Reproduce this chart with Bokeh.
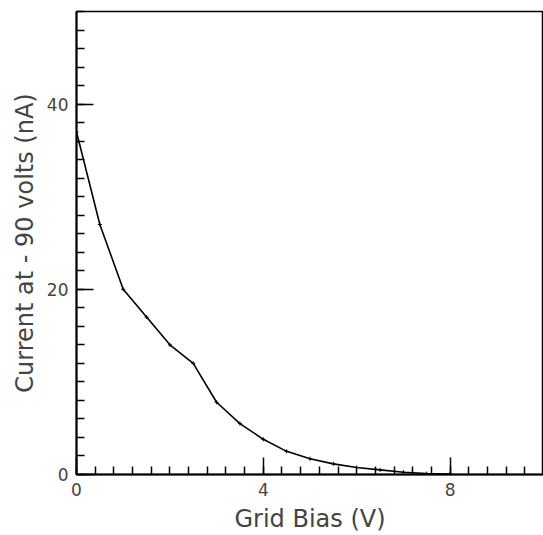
from bokeh.plotting import figure
from bokeh.models import FixedTicker, Range1d
from bokeh.embed import file_html
from bokeh.resources import INLINE

# data
grid_bias = [0.0, 0.5, 1.0, 1.5, 2.0, 2.5, 3.0, 3.5, 4.0, 4.5, 5.0, 5.5, 6.0, 6.5, 7.0, 7.5, 8.0]
current = [37.0, 27.0, 20.0, 17.0, 14.0, 12.0, 7.8, 5.5, 3.8, 2.5, 1.7, 1.15, 0.75, 0.5, 0.25, 0.1, 0.05]

x_major = [0, 4, 8]
x_minor = [round(0.4 * i, 2) for i in range(0, 26)]
y_major = [0, 20, 40]
y_minor = [2 * i for i in range(0, 26)]

FONT = "DejaVu Sans"
TXT = "#444444"

p = figure(width=543, height=535, output_backend="svg", toolbar_location=None,
           x_range=Range1d(0, 10), y_range=Range1d(0, 50),
           min_border_left=76, min_border_right=0, min_border_top=11, min_border_bottom=60)

p.line(grid_bias, current, line_color="black", line_width=1.6)
p.scatter(grid_bias, current, marker="cross", size=4, line_color="black", line_width=1)

p.xgrid.visible = False
p.ygrid.visible = False
p.outline_line_color = "black"
p.outline_line_width = 1.5

p.xaxis.ticker = FixedTicker(ticks=x_major, minor_ticks=x_minor)
p.yaxis.ticker = FixedTicker(ticks=y_major, minor_ticks=y_minor)

for ax in (p.xaxis, p.yaxis):
    ax.axis_line_color = "black"
    ax.axis_line_width = 2
    ax.major_tick_in = 17
    ax.major_tick_out = 0
    ax.minor_tick_in = 8
    ax.minor_tick_out = 0
    ax.major_tick_line_color = "black"
    ax.minor_tick_line_color = "black"
    ax.major_tick_line_width = 1.5
    ax.minor_tick_line_width = 1.5
    ax.major_label_text_font = FONT
    ax.major_label_text_font_size = "17px"
    ax.major_label_text_color = TXT
    ax.axis_label_text_font = FONT
    ax.axis_label_text_font_size = "24px"
    ax.axis_label_text_font_style = "normal"
    ax.axis_label_text_color = TXT

p.xaxis.axis_label = "Grid Bias (V)"
p.yaxis.axis_label = "Current at - 90 volts (nA)"
p.xaxis.major_label_standoff = 8
p.yaxis.major_label_standoff = 8
p.xaxis.axis_label_standoff = 6
p.yaxis.axis_label_standoff = 5

open("out.html", "w").write(file_html(p, INLINE))
